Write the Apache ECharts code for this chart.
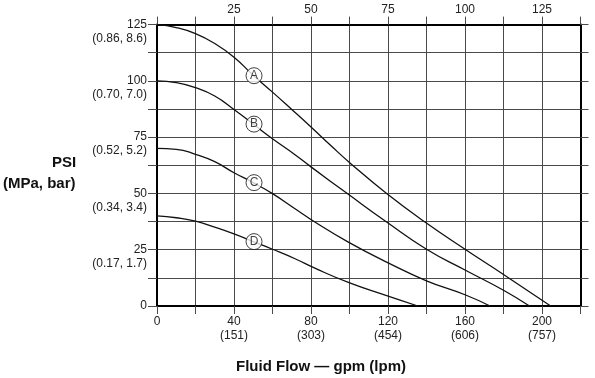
<!DOCTYPE html>
<html>
<head>
<meta charset="utf-8">
<script src="https://cdn.jsdelivr.net/npm/echarts@6/dist/echarts.min.js"></script>
<style>
  html, body { margin: 0; padding: 0; background: #fff; }
  #chart { width: 595px; height: 378px; }
</style>
</head>
<body>
<div id="chart"></div>
<script>
// flow in gpm, pressure in psi
const flowA = [0, 10, 20, 30, 40, 50, 60, 70, 80, 90, 101, 119.3, 139.2, 160, 180, 204.5];
const psiA = [125, 123.7, 121, 116.6, 110.5, 102.5, 95, 87.3, 79.5, 71.5, 63, 50, 37.3, 25.2, 14, 0];

const flowB = [0, 10, 20, 30, 40, 50, 60, 71.7, 80, 99.4, 119.3, 140, 160, 180, 193.5];
const psiB = [100, 99.2, 97, 93.3, 87.3, 80.8, 74.3, 67.2, 61.8, 49.6, 37.3, 25.2, 16, 7, 0];

const flowC = [0, 10, 20, 30, 40, 50, 60, 71.7, 82, 99.4, 119.3, 140, 160, 173];
const psiC = [70, 69.6, 67.4, 64.1, 59.2, 54.8, 49.9, 43.2, 37.3, 28.4, 19.5, 11.2, 5, 0];

const flowD = [0, 10, 20, 30, 40, 50, 60, 71.7, 82, 99.4, 119.3, 135.5];
const psiD = [40, 39.2, 37.7, 35, 32, 28.6, 25.2, 21, 16.8, 10.5, 4.6, 0];

// circled curve letters
const curveNames = ["A", "B", "C", "D"];
const markFlow = [50.4, 50.4, 50.4, 50.4];
const markPsi = [102.3, 80.8, 54.8, 28.6];

// tick labels
const gpmTicks = [0, 40, 80, 120, 160, 200];
const lpmLabels = ["", "(151)", "(303)", "(454)", "(606)", "(757)"];
const psiTicks = [0, 25, 50, 75, 100, 125];
const metricLabels = ["", "(0.17, 1.7)", "(0.34, 3.4)", "(0.52, 5.2)", "(0.70, 7.0)", "(0.86, 8.6)"];
const topTicks = [25, 50, 75, 100, 125];

const FONT = "'Liberation Sans', Arial, Helvetica, sans-serif";
const GRID_COLOR = "#4a4a4a";

function pairs(xs, ys) {
  return xs.map((x, i) => [x, ys[i]]);
}

var chart = echarts.init(document.getElementById("chart"));

const curves = [
  [flowA, psiA],
  [flowB, psiB],
  [flowC, psiC],
  [flowD, psiD],
];

const series = curves.map((c, i) => ({
  name: curveNames[i],
  type: "line",
  data: pairs(c[0], c[1]),
  smooth: 0.5,
  showSymbol: false,
  lineStyle: { color: "#111", width: 1.3 },
  z: 3,
}));

series.push({
  type: "scatter",
  data: markFlow.map((x, i) => [x, markPsi[i], curveNames[i]]),
  symbol: "circle",
  symbolSize: 16,
  itemStyle: { color: "#fff", borderColor: "#111", borderWidth: 1 },
  label: {
    show: true,
    position: "inside",
    formatter: (p) => p.value[2],
    color: "#111",
    fontSize: 12,
    fontFamily: FONT,
  },
  z: 5,
});

const option = {
  animation: false,
  backgroundColor: "#fff",
  grid: {
    left: 157,
    right: 14.5,
    top: 24.6,
    bottom: 72,
  },
  xAxis: [
    {
      type: "value",
      position: "bottom",
      min: 0,
      max: 220,
      interval: 20,
      axisLine: { show: true, onZero: false, lineStyle: { color: "#000", width: 2 } },
      axisTick: { show: true, inside: false, length: 8, lineStyle: { color: GRID_COLOR } },
      splitLine: { show: true, lineStyle: { color: GRID_COLOR, width: 1 } },
      axisLabel: {
        margin: 9,
        fontSize: 12,
        lineHeight: 14,
        color: "#222",
        fontFamily: FONT,
        formatter: (v) => {
          const i = gpmTicks.indexOf(v);
          if (i < 0) return "";
          return lpmLabels[i] ? v + "\n" + lpmLabels[i] : String(v);
        },
      },
    },
    {
      type: "value",
      position: "top",
      min: 0,
      max: 137.5,
      interval: 12.5,
      axisLine: { show: true, onZero: false, lineStyle: { color: "#000", width: 2 } },
      axisTick: { show: true, inside: false, length: 8, lineStyle: { color: GRID_COLOR } },
      splitLine: { show: false },
      axisLabel: {
        margin: 8,
        fontSize: 12,
        lineHeight: 14,
        color: "#222",
        fontFamily: FONT,
        formatter: (v) => (topTicks.indexOf(v) >= 0 ? String(v) : ""),
      },
    },
  ],
  yAxis: [
    {
      type: "value",
      position: "left",
      min: 0,
      max: 125,
      interval: 12.5,
      axisLine: { show: true, onZero: false, lineStyle: { color: "#000", width: 2 } },
      axisTick: { show: true, inside: false, length: 9, lineStyle: { color: GRID_COLOR } },
      splitLine: { show: true, lineStyle: { color: GRID_COLOR, width: 1 } },
      axisLabel: {
        margin: 10,
        fontSize: 12,
        lineHeight: 14,
        color: "#222",
        fontFamily: FONT,
        formatter: (v) => {
          const i = psiTicks.indexOf(v);
          if (i < 0) return "";
          return metricLabels[i] ? " \n" + v + "\n" + metricLabels[i] : String(v);
        },
      },
    },
    {
      type: "value",
      position: "right",
      min: 0,
      max: 125,
      interval: 12.5,
      axisLine: { show: true, onZero: false, lineStyle: { color: "#000", width: 2 } },
      axisTick: { show: true, inside: false, length: 8, lineStyle: { color: GRID_COLOR } },
      splitLine: { show: false },
      axisLabel: { show: false },
    },
  ],
  graphic: [
    {
      type: "text",
      left: 52,
      top: 155,
      style: { text: "PSI", font: "bold 15px " + FONT, fill: "#111" },
    },
    {
      type: "text",
      left: 3,
      top: 176,
      style: { text: "(MPa, bar)", font: "bold 15px " + FONT, fill: "#111" },
    },
    {
      type: "text",
      left: 236,
      top: 359,
      style: { text: "Fluid Flow — gpm (lpm)", font: "bold 15px " + FONT, fill: "#111" },
    },
  ],
  series: series,
};

chart.setOption(option);
</script>
</body>
</html>
